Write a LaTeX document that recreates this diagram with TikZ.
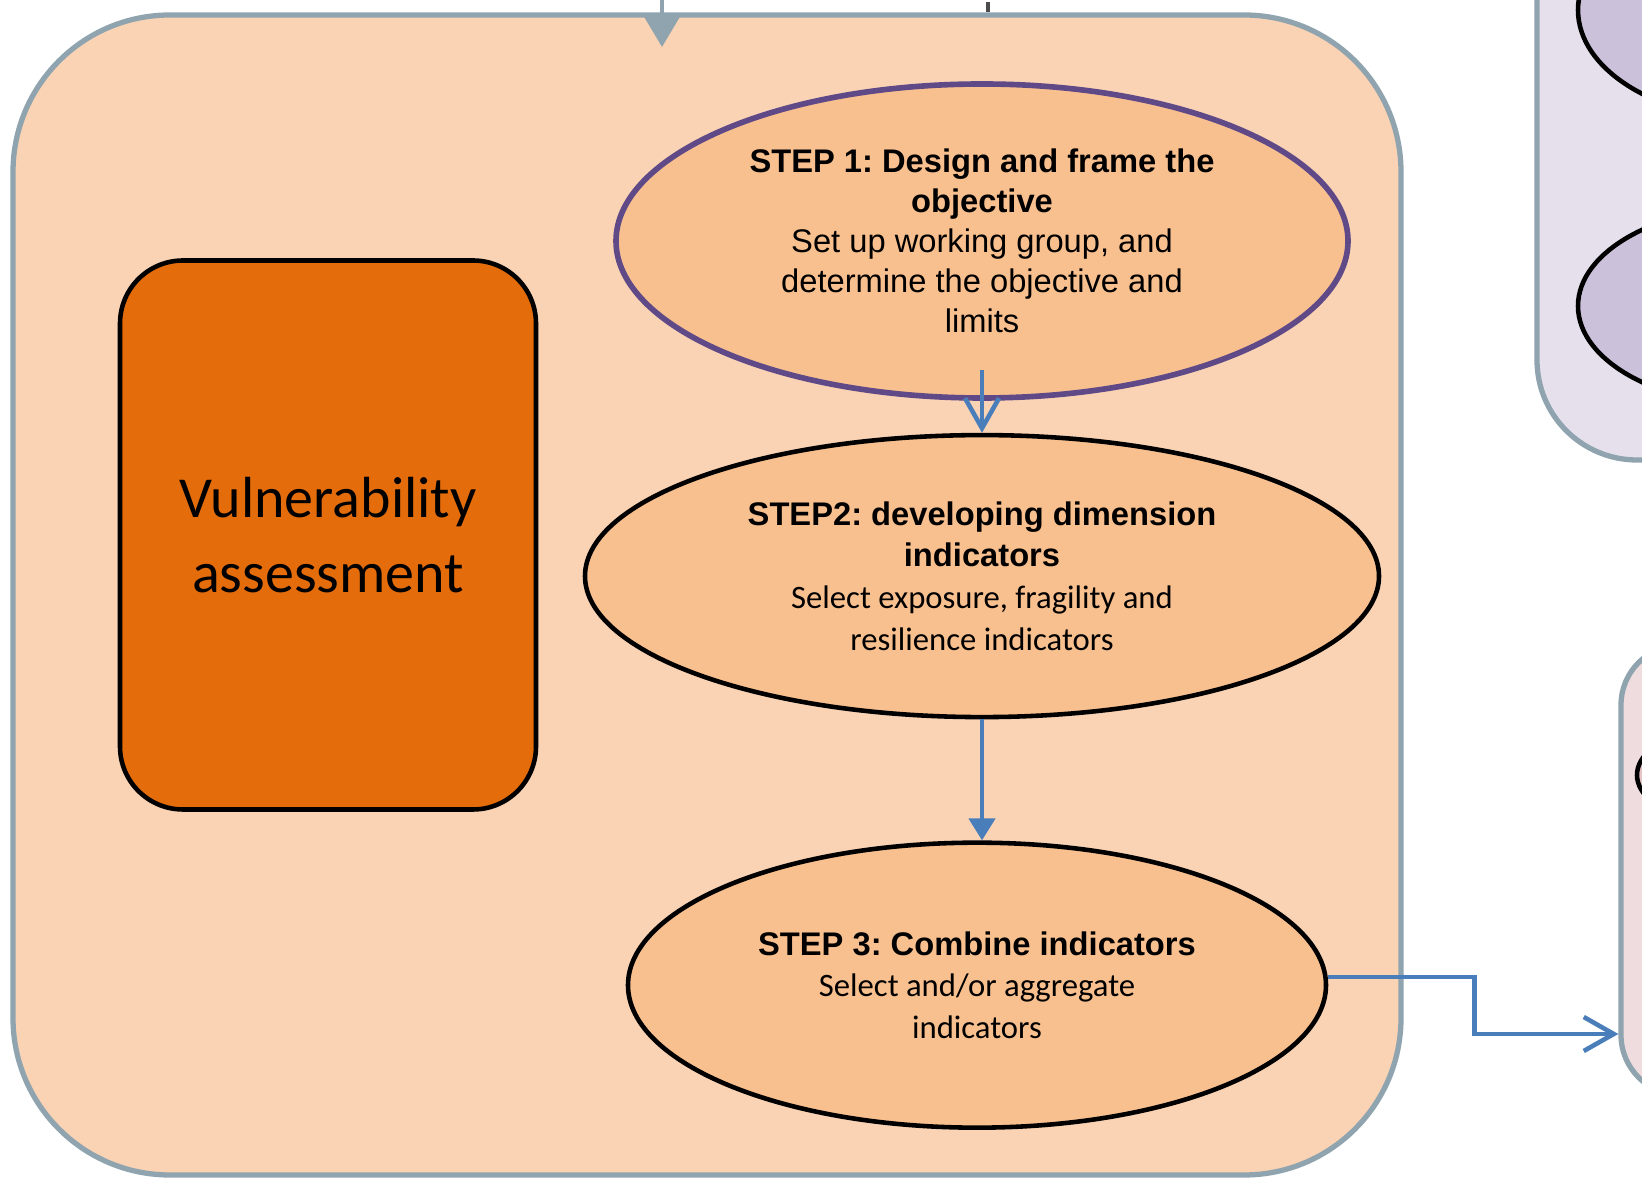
\documentclass[tikz,border=0pt]{standalone}
\usepackage{fontspec}
\setmainfont{Liberation Sans}
\newfontfamily\carlito{Carlito}
\usepackage{tikz}
\usetikzlibrary{positioning, shapes.geometric, arrows.meta}
\frenchspacing
\definecolor{panelfill}{HTML}{FAD3B4}
\definecolor{panelline}{HTML}{8FA4AF}
\definecolor{stepfill}{HTML}{F9C08F}
\definecolor{vulnfill}{HTML}{E46C0A}
\definecolor{purpleline}{HTML}{5F4A87}
\definecolor{linkblue}{HTML}{4A7EBB}
\definecolor{lavfill}{HTML}{E5E0EC}
\definecolor{lavshape}{HTML}{CCC1DA}
\definecolor{pinkfill}{HTML}{EFDCDE}
\definecolor{pinkshape}{HTML}{E6C4C6}

\begin{document}
\begin{tikzpicture}[auto, node distance=0.4cm, >={Straight Barb[length=3mm,width=3.4mm]},
	stepnode/.style={ellipse, draw, line width=1.3pt, fill=stepfill, align=center, inner sep=0pt},
	sidebox/.style={rectangle, draw=panelline, line width=1.5pt},
	link/.style={draw=linkblue, line width=1.3pt}]
    \useasboundingbox (0,0) rectangle (16.42,-11.79);
    \clip (0,0) rectangle (16.42,-11.79);
    \fill[white] (0,0) rectangle (16.42,-11.79);

    % boxes on the right, cut by the page edge
    \node [sidebox, rounded corners=1cm, fill=lavfill, minimum width=3cm, minimum height=5.6cm] (lavbox) at (16.87,-1.8) {};
    \node [ellipse, draw, line width=1.3pt, fill=lavshape, minimum width=3.64cm, minimum height=2.2cm] (lavtop) at (17.60,-0.10) {};
    \node [ellipse, draw, line width=1.3pt, fill=lavshape, minimum width=3.64cm, minimum height=2cm] (lavbot) at (17.60,-3.06) {};
    \node [sidebox, rounded corners=0.6cm, fill=pinkfill, minimum width=2cm, minimum height=4.5cm] (pinkbox) at (17.21,-8.70) {};
    \node [ellipse, draw, line width=1.3pt, fill=pinkshape, minimum width=3.86cm, minimum height=1.4cm] (pinkshape) at (18.3,-7.75) {};

    \node [sidebox, rounded corners=1.57cm, fill=panelfill, minimum width=13.88cm, minimum height=11.6cm] (panel) at (7.07,-5.95) {};

    \node [rectangle, rounded corners=0.63cm, draw, line width=1.3pt, fill=vulnfill, minimum width=4.16cm, minimum height=5.49cm, align=center, font=\carlito\fontsize{16.5}{21.4}\selectfont] (vuln) at (3.28,-5.35) {Vulnerability\\assessment};

    \node [stepnode, draw=purpleline, line width=1.6pt, minimum width=7.32cm, minimum height=3.14cm, font=\fontsize{9.3}{11.4}\selectfont] (step1) at (9.82,-2.41) {\textbf{STEP 1: Design and frame the}\\\textbf{objective}\\Set up working group, and\\determine the objective and\\limits};
    \node [stepnode, below=0.32cm of step1, minimum width=7.94cm, minimum height=2.82cm, font=\fontsize{9.3}{11.9}\selectfont] (step2) {\textbf{STEP2: developing dimension}\\\textbf{indicators}\\{\carlito Select exposure, fragility and}\\{\carlito resilience indicators}};
    \node [stepnode, below=1.21cm of step2, xshift=-0.05cm, minimum width=6.98cm, minimum height=2.85cm, font=\fontsize{9.3}{11.9}\selectfont] (step3) {\textbf{STEP 3: Combine indicators}\\{\carlito Select and/or aggregate}\\{\carlito indicators}};

    % incoming arrow and tick on the top edge
    \coordinate (feedtop) at (6.62,0.05);
    \coordinate (feedend) at (6.62,-0.47);
    \draw[-{Triangle[length=3.2mm,width=3.7mm]}, draw=panelline, fill=panelline, line width=1.2pt] (feedtop) -- (feedend);
    \draw[line width=1.2pt, black!70] (9.88,-0.02) -- (9.88,-0.12);

    \draw[->, link] ([yshift=0.31cm]step1.south) -- (step2.north);
	\draw[-{Triangle[length=2.2mm,width=2.6mm]}, link, fill=linkblue] (step2.south) -- (step2.south |- step3.north);
	\draw[->, link] ([yshift=0.08cm]step3.east) -- ++(1.46,0) |- ([yshift=-1.64cm]pinkbox.west);
    \end{tikzpicture}
\end{document}
